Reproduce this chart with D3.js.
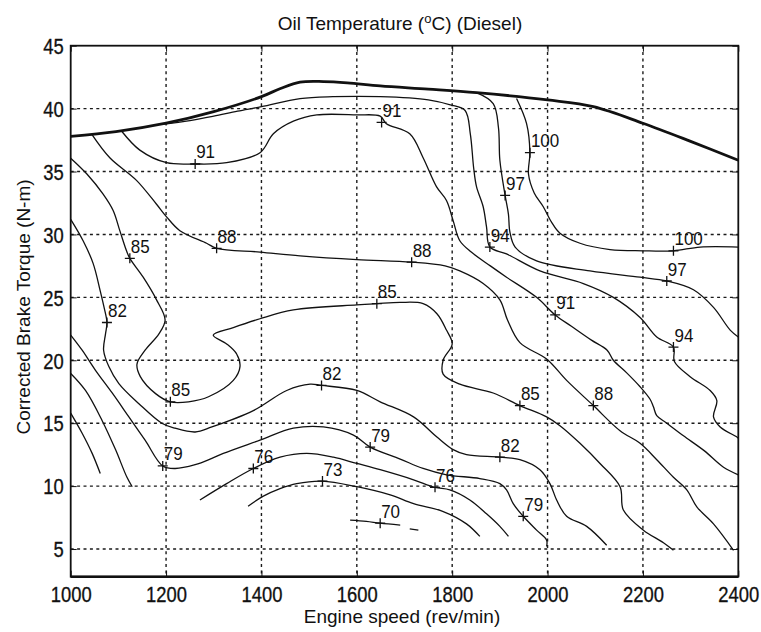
<!DOCTYPE html>
<html>
<head>
<meta charset="utf-8">
<script src="https://cdn.jsdelivr.net/npm/d3@7/dist/d3.min.js"></script>
<style>
  body { margin: 0; background: #fff; }
  text { font-family: "Liberation Sans", Arial, Helvetica, sans-serif; fill: #111; }
</style>
</head>
<body>
<svg id="chart" width="761" height="632"></svg>
<script>
// Axis ticks
const speedTicks = [1000, 1200, 1400, 1600, 1800, 2000, 2200, 2400];
const torqueTicks = [5, 10, 15, 20, 25, 30, 35, 40, 45];

// Full-load torque curve (engine speed rev/min, torque N-m)
const fullLoad = [[1000,37.8],[1095,38.17],[1200,38.84],[1300,39.76],[1400,40.95],[1440,41.6],[1481,42.1],
  [1530,42.15],[1580,42.05],[1649,41.8],[1750,41.55],[1851,41.27],[2000,40.69],[2096,40.16],
  [2200,38.84],[2300,37.4],[2400,35.9]];

// Oil temperature isotherms (°C)
const iso100 = [[1935,40.8],[1956,38.8],[1963,36.5],[1960,34.8],[1972,33.3],[1991,32.2],[2008,31.0],
  [2026,30.1],[2068,29.3],[2131,28.8],[2200,28.7],[2264,28.7],[2320,29.0],[2400,29.0]];
const iso97 = [[1851,41.27],[1886,40.4],[1897,38.5],[1900,35.9],[1911,33.1],[1918,31.6],[1921,30.2],
  [1932,29.0],[1977,27.9],[2089,27.1],[2194,26.6],[2250,26.3],[2306,25.6],[2348,24.2],[2383,22.4],[2400,21.85]];
const iso94 = [[1190,38.75],[1250,39.05],[1300,39.4],[1350,39.8],[1400,40.15],[1481,40.8],[1550,40.95],
  [1649,40.95],[1750,40.7],[1796,40.3],[1827,39.85],[1838,38.0],[1845,35.3],[1851,33.8],[1865,32.2],
  [1872,30.6],[1879,29.0],[1914,28.45],[1984,27.1],[2075,26.1],[2138,25.0],[2194,23.4],[2229,21.85],
  [2264,21.05],[2266,19.9],[2299,18.7],[2341,17.6],[2355,16.8],[2348,15.5],[2362,14.7],[2397,13.9],[2400,13.8]];
const iso91 = [[1107,38.2],[1145,36.7],[1201,35.7],[1261,35.6],[1327,35.7],[1397,36.5],[1425,38.0],
  [1467,39.0],[1516,39.5],[1600,39.5],[1649,39.4],[1662,38.8],[1711,38.0],[1739,36.1],[1767,33.8],
  [1788,32.7],[1802,31.1],[1816,29.5],[1840,28.6],[1880,27.5],[1914,26.6],[1977,25.0],[2016,23.6],
  [2050,22.7],[2092,21.6],[2125,20.8],[2138,20.0],[2166,19.0],[2194,17.9],[2215,16.9],[2222,16.3],
  [2229,15.6],[2250,15.0],[2285,14.0],[2329,12.8],[2369,11.5],[2400,10.9]];
const iso88 = [[1044,37.98],[1082,36.1],[1138,34.3],[1180,32.4],[1201,31.4],[1229,30.3],[1285,29.3],
  [1306,28.9],[1397,28.6],[1481,28.3],[1600,28.0],[1715,27.8],[1785,27.5],[1816,27.1],[1865,26.1],
  [1900,24.8],[1916,23.2],[1942,21.4],[1998,20.1],[2040,18.4],[2096,16.4],[2152,14.4],[2194,13.4],
  [2229,12.1],[2264,10.7],[2292,9.7],[2313,8.35],[2348,7.0],[2390,4.9]];
const iso85 = [[1000,36.06],[1034,34.8],[1068,33.2],[1089,31.9],[1103,30.3],[1117,28.7],[1124,28.1],
  [1152,26.6],[1180,24.8],[1198,23.2],[1185,22.1],[1156,20.8],[1139,19.7],[1146,18.7],[1178,17.35],
  [1209,16.7],[1247,16.7],[1289,17.1],[1341,18.4],[1355,19.5],[1348,20.5],[1327,21.3],[1299,22.0],
  [1341,22.6],[1397,23.3],[1467,24.0],[1600,24.4],[1642,24.5],[1691,24.6],[1739,24.5],[1768,23.7],
  [1788,22.4],[1800,21.3],[1781,20.0],[1781,18.9],[1816,18.1],[1886,17.4],[1942,16.4],[1998,15.5],
  [2026,14.8],[2068,13.4],[2110,11.8],[2152,9.95],[2159,8.1],[2201,6.5],[2243,5.5],[2264,4.9]];
const iso82 = [[1000,31.2],[1026,29.5],[1047,27.7],[1062,25.5],[1070,24.2],[1076,23.0],[1073,22.1],
  [1069,20.8],[1080,19.5],[1101,18.15],[1143,16.55],[1191,15.0],[1219,14.6],[1261,14.3],[1296,14.7],
  [1383,16.0],[1453,17.6],[1502,18.1],[1526,18.0],[1600,17.6],[1649,16.7],[1719,15.5],[1768,13.9],
  [1802,12.9],[1830,12.5],[1900,12.3],[1942,12.1],[1984,11.3],[2005,10.2],[2019,8.9],[2040,7.6],
  [2082,6.8],[2124,5.3]];
const iso79 = [[1000,22.0],[1024,20.8],[1052,19.2],[1087,17.4],[1122,15.5],[1156,13.65],[1193,11.6],
  [1219,11.4],[1261,11.7],[1296,12.2],[1320,12.6],[1397,13.65],[1467,14.6],[1530,14.7],[1593,14.05],
  [1628,13.1],[1691,12.15],[1739,11.4],[1788,10.9],[1858,10.6],[1900,10.2],[1914,9.7],[1928,8.6],
  [1949,7.6],[1977,6.5],[1998,5.7],[1998,5.2]];
const iso76a = [[1000,18.95],[1031,17.6],[1066,15.2],[1094,12.9],[1118,10.7],[1129,9.95]];
const iso76b = [[1271,8.9],[1327,10.2],[1383,11.4],[1439,12.3],[1495,12.6],[1551,12.3],[1600,11.8],
  [1649,11.3],[1719,10.5],[1764,9.9],[1795,9.7],[1837,8.9],[1872,7.8],[1900,6.8],[1918,6.0]];
const iso73a = [[1000,15.8],[1024,14.2],[1045,12.6],[1062,11.0]];
const iso73b = [[1372,8.4],[1404,9.2],[1439,9.8],[1474,10.2],[1528,10.4],[1600,9.95],[1670,9.3],
  [1719,8.6],[1780,8.0],[1830,7.0],[1858,6.0]];
const iso70a = [[1586,7.3],[1620,7.2],[1649,7.05],[1691,6.9]];
const iso70b = [[1711,6.6],[1729,6.5]];

const isotherms = [iso100, iso97, iso94, iso91, iso88, iso85, iso82, iso79,
  iso76a, iso76b, iso73a, iso73b, iso70a, iso70b];

// Contour labels: level and the point on the isotherm where it is marked
const labelLevels  = [91, 91, 100, 97, 94, 100, 97, 91, 94, 88, 88, 85, 85, 82, 85, 82, 85, 88, 79, 76, 79, 73, 76, 82, 79, 70];
const labelSpeeds  = [1261, 1652, 1963, 1911, 1879, 2264, 2250, 2016, 2264, 1306, 1715, 1124, 1642, 1076, 1209, 1526, 1942, 2096, 1193, 1383, 1628, 1528, 1764, 1900, 1949, 1649];
const labelTorques = [35.6, 38.9, 36.5, 33.1, 29.0, 28.7, 26.3, 23.6, 21.05, 28.9, 27.8, 28.1, 24.5, 23.0, 16.7, 18.0, 16.4, 16.4, 11.6, 11.4, 13.1, 10.4, 9.9, 12.3, 7.6, 7.05];

const svg = d3.select("#chart");
const x = d3.scaleLinear().domain([1000, 2400]).range([70.7, 738.3]);
const y = d3.scaleLinear().domain([2.8, 45]).range([576.7, 45.7]);
const [x0, x1] = x.range();
const [y0, y1] = y.range();

// Dotted grid
svg.append("g").selectAll("line").data(speedTicks.slice(1, -1)).join("line")
  .attr("x1", d => x(d)).attr("x2", d => x(d)).attr("y1", y1).attr("y2", y0)
  .attr("stroke", "#1a1a1a").attr("stroke-width", 1.4).attr("stroke-dasharray", "3,3.4");
svg.append("g").selectAll("line").data(torqueTicks.slice(0, -1)).join("line")
  .attr("x1", x0).attr("x2", x1).attr("y1", d => y(d)).attr("y2", d => y(d))
  .attr("stroke", "#1a1a1a").attr("stroke-width", 1.4).attr("stroke-dasharray", "3,3.4");

// Axes with inward ticks; tick numerals are slightly condensed
const sx = 0.92, sy = 1.08;
const gx = svg.append("g").attr("transform", `translate(0,${y0})`)
  .call(d3.axisBottom(x).tickValues(speedTicks).tickSizeInner(-6).tickSizeOuter(0).tickFormat(d3.format("d")));
gx.selectAll("text").attr("y", 25.5 / sy).attr("dy", null)
  .attr("transform", `scale(${sx},${sy})`);
const gy = svg.append("g").attr("transform", `translate(${x0},0)`)
  .call(d3.axisLeft(y).tickValues(torqueTicks).tickSizeInner(-6).tickSizeOuter(0));
gy.selectAll("text").attr("x", 0).attr("dy", "0.36em")
  .attr("transform", `translate(-7,0) scale(${sx},${sy})`);
[gx, gy].forEach(g => {
  g.select(".domain").remove();
  g.selectAll("line").attr("stroke", "#111");
  g.selectAll("text").style("font-size", "20px").attr("fill", "#111")
    .attr("stroke", "#111").attr("stroke-width", 0.3);
});
svg.append("g").attr("transform", `translate(0,${y1})`)
  .call(d3.axisTop(x).tickValues(speedTicks).tickSizeInner(-6).tickSizeOuter(0).tickFormat(""))
  .call(g => { g.select(".domain").remove(); g.selectAll("line").attr("stroke", "#111"); });
svg.append("g").attr("transform", `translate(${x1},0)`)
  .call(d3.axisRight(y).tickValues(torqueTicks).tickSizeInner(-6).tickSizeOuter(0).tickFormat(""))
  .call(g => { g.select(".domain").remove(); g.selectAll("line").attr("stroke", "#111"); });

// Isotherms
const line = d3.line().x(d => x(d[0])).y(d => y(d[1])).curve(d3.curveCatmullRom.alpha(0.5));
svg.append("g").selectAll("path").data(isotherms).join("path")
  .attr("d", line).attr("fill", "none").attr("stroke", "#111").attr("stroke-width", 1.3);

// Full-load curve
svg.append("path").datum(fullLoad).attr("d", line)
  .attr("fill", "none").attr("stroke", "#111").attr("stroke-width", 2.8);

// Contour labels with "+" markers
const marks = svg.append("g").selectAll("g").data(labelLevels.map((v, i) => i)).join("g")
  .attr("transform", i => `translate(${x(labelSpeeds[i])},${y(labelTorques[i])})`);
marks.append("path").attr("d", "M-5,0H5M0,-5V5").attr("stroke", "#111").attr("stroke-width", 1.3);
marks.append("text").attr("x", 1).attr("y", -5.5 / 1.08).attr("transform", "scale(1,1.08)")
  .style("font-size", "17px").text(i => labelLevels[i]);

// Frame
svg.append("rect").attr("x", x0).attr("y", y1).attr("width", x1 - x0).attr("height", y0 - y1)
  .attr("fill", "none").attr("stroke", "#111").attr("stroke-width", 1.8);
svg.append("line").attr("x1", x0).attr("x2", x1).attr("y1", y0).attr("y2", y0)
  .attr("stroke", "#111").attr("stroke-width", 2.6);

// Titles
const title = svg.append("text").attr("x", 400).attr("y", 30).attr("text-anchor", "middle")
  .style("font-size", "19px");
title.append("tspan").text("Oil Temperature (");
title.append("tspan").attr("dy", -7).style("font-size", "13px").text("o");
title.append("tspan").attr("dy", 7).text("C) (Diesel)");

svg.append("text").attr("x", 402).attr("y", 623).attr("text-anchor", "middle")
  .style("font-size", "19px").text("Engine speed (rev/min)");
svg.append("text").attr("transform", "translate(30,307) rotate(-90)").attr("text-anchor", "middle")
  .style("font-size", "19px").text("Corrected Brake Torque (N-m)");
</script>
</body>
</html>
